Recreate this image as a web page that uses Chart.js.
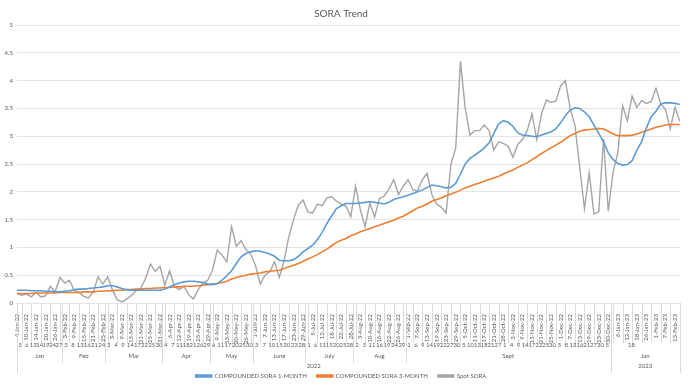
<!DOCTYPE html>
<html>
<head>
<meta charset="utf-8">
<script src="https://cdn.jsdelivr.net/npm/chart.js@4.4.0/dist/chart.umd.min.js"></script>
<style>
  html, body { margin: 0; padding: 0; background: #fff; }
  #wrap { width: 690px; height: 389px; }
</style>
</head>
<body>
<div id="wrap"><canvas id="soraChart"></canvas></div>
<script>
// Every other business day, Jan 2022 - Feb 2023
const dates = [
  "4-Jan-22", "6-Jan-22", "10-Jan-22", "12-Jan-22", "14-Jan-22", "18-Jan-22", "20-Jan-22", "24-Jan-22", "26-Jan-22", "28-Jan-22",
  "3-Feb-22", "7-Feb-22", "9-Feb-22", "11-Feb-22", "15-Feb-22", "17-Feb-22", "21-Feb-22", "23-Feb-22", "25-Feb-22",
  "1-Mar-22", "3-Mar-22", "7-Mar-22", "9-Mar-22", "11-Mar-22", "15-Mar-22", "17-Mar-22", "21-Mar-22", "23-Mar-22", "25-Mar-22", "29-Mar-22", "31-Mar-22",
  "4-Apr-22", "6-Apr-22", "8-Apr-22", "12-Apr-22", "14-Apr-22", "19-Apr-22", "21-Apr-22", "25-Apr-22", "27-Apr-22", "29-Apr-22",
  "5-May-22", "9-May-22", "11-May-22", "13-May-22", "18-May-22", "20-May-22", "24-May-22", "26-May-22", "30-May-22",
  "1-Jun-22", "3-Jun-22", "7-Jun-22", "9-Jun-22", "13-Jun-22", "15-Jun-22", "17-Jun-22", "21-Jun-22", "23-Jun-22", "27-Jun-22", "29-Jun-22",
  "1-Jul-22", "5-Jul-22", "7-Jul-22", "12-Jul-22", "14-Jul-22", "18-Jul-22", "20-Jul-22", "22-Jul-22", "26-Jul-22", "28-Jul-22",
  "1-Aug-22", "3-Aug-22", "5-Aug-22", "10-Aug-22", "12-Aug-22", "16-Aug-22", "18-Aug-22", "22-Aug-22", "24-Aug-22", "26-Aug-22", "30-Aug-22",
  "1-Sep-22", "5-Sep-22", "7-Sep-22", "9-Sep-22", "13-Sep-22", "15-Sep-22", "19-Sep-22", "21-Sep-22", "23-Sep-22", "27-Sep-22", "29-Sep-22",
  "3-Oct-22", "5-Oct-22", "7-Oct-22", "11-Oct-22", "13-Oct-22", "17-Oct-22", "19-Oct-22", "21-Oct-22", "26-Oct-22", "28-Oct-22",
  "1-Nov-22", "3-Nov-22", "7-Nov-22", "9-Nov-22", "11-Nov-22", "15-Nov-22", "17-Nov-22", "21-Nov-22", "23-Nov-22", "25-Nov-22", "29-Nov-22",
  "1-Dec-22", "5-Dec-22", "7-Dec-22", "9-Dec-22", "13-Dec-22", "15-Dec-22", "19-Dec-22", "21-Dec-22", "23-Dec-22", "28-Dec-22", "30-Dec-22",
  "4-Jan-23", "6-Jan-23", "10-Jan-23", "12-Jan-23", "16-Jan-23", "18-Jan-23", "20-Jan-23", "26-Jan-23", "30-Jan-23",
  "1-Feb-23", "3-Feb-23", "7-Feb-23", "9-Feb-23", "13-Feb-23", "15-Feb-23"
];

const sora1m = [
  0.23, 0.23, 0.23, 0.22, 0.22, 0.22, 0.21, 0.21, 0.20, 0.20,
  0.21, 0.22, 0.24, 0.25, 0.25, 0.26, 0.27, 0.28, 0.29, 0.31,
  0.31, 0.29, 0.26, 0.24, 0.23, 0.23, 0.23, 0.23, 0.23, 0.23,
  0.23, 0.25, 0.29, 0.33, 0.36, 0.38, 0.39, 0.39, 0.38, 0.37,
  0.34, 0.33, 0.35, 0.41, 0.49, 0.58, 0.71, 0.83, 0.89, 0.92,
  0.94, 0.93, 0.91, 0.88, 0.84, 0.77, 0.76, 0.76, 0.78, 0.84,
  0.92, 0.98, 1.04, 1.14, 1.27, 1.43, 1.57, 1.70, 1.75, 1.79,
  1.79, 1.79, 1.80, 1.81, 1.82, 1.81, 1.80, 1.78, 1.81, 1.86,
  1.89, 1.91, 1.94, 1.97, 2.00, 2.03, 2.08, 2.12, 2.11, 2.09,
  2.07, 2.08, 2.15, 2.32, 2.50, 2.60, 2.66, 2.72, 2.79, 2.88,
  3.05, 3.22, 3.28, 3.25, 3.18, 3.06, 3.02, 3.01, 3.00, 2.99,
  3.02, 3.05, 3.08, 3.13, 3.24, 3.37, 3.47, 3.51, 3.50, 3.44,
  3.35, 3.20, 3.05, 2.90, 2.70, 2.58, 2.51, 2.48, 2.49, 2.56,
  2.75, 2.90, 3.15, 3.35, 3.45, 3.58, 3.60, 3.60, 3.59, 3.57
];

const sora3m = [
  0.17, 0.17, 0.17, 0.17, 0.18, 0.18, 0.18, 0.18, 0.18, 0.19,
  0.19, 0.19, 0.19, 0.19, 0.20, 0.20, 0.20, 0.21, 0.21, 0.22,
  0.22, 0.23, 0.23, 0.24, 0.24, 0.25, 0.25, 0.26, 0.26, 0.27,
  0.27, 0.28, 0.28, 0.29, 0.29, 0.30, 0.30, 0.30, 0.31, 0.32,
  0.33, 0.34, 0.35, 0.37, 0.39, 0.43, 0.46, 0.48, 0.50, 0.52,
  0.53, 0.54, 0.56, 0.57, 0.58, 0.59, 0.62, 0.65, 0.68, 0.71,
  0.75, 0.79, 0.83, 0.87, 0.92, 0.97, 1.03, 1.09, 1.13, 1.16,
  1.21, 1.24, 1.28, 1.31, 1.34, 1.37, 1.40, 1.43, 1.46, 1.49,
  1.53, 1.56, 1.61, 1.66, 1.71, 1.74, 1.78, 1.83, 1.86, 1.89,
  1.93, 1.96, 1.99, 2.03, 2.07, 2.10, 2.13, 2.16, 2.19, 2.22,
  2.25, 2.28, 2.32, 2.36, 2.39, 2.44, 2.48, 2.52, 2.58, 2.63,
  2.69, 2.74, 2.79, 2.84, 2.89, 2.95, 3.01, 3.05, 3.09, 3.11,
  3.12, 3.13, 3.14, 3.13, 3.09, 3.04, 3.01, 3.01, 3.01, 3.02,
  3.04, 3.07, 3.10, 3.13, 3.16, 3.18, 3.20, 3.21, 3.21, 3.21
];

const spotSora = [
  0.17, 0.14, 0.16, 0.11, 0.19, 0.11, 0.13, 0.30, 0.20, 0.46,
  0.36, 0.41, 0.23, 0.19, 0.12, 0.09, 0.20, 0.47, 0.34, 0.47,
  0.24, 0.06, 0.02, 0.07, 0.14, 0.22, 0.27, 0.45, 0.70, 0.57,
  0.66, 0.32, 0.58, 0.30, 0.24, 0.30, 0.15, 0.07, 0.24, 0.36,
  0.41, 0.59, 0.95, 0.86, 0.74, 1.37, 1.02, 1.12, 0.96, 0.88,
  0.68, 0.34, 0.50, 0.56, 0.74, 0.46, 0.75, 1.19, 1.50, 1.76,
  1.85, 1.64, 1.62, 1.78, 1.75, 1.89, 1.91, 1.83, 1.78, 1.74,
  1.55, 2.10, 1.68, 1.37, 1.80, 1.55, 1.88, 1.92, 2.05, 2.22,
  1.95, 2.10, 2.22, 2.04, 2.02, 2.22, 2.33, 1.95, 1.78, 1.72,
  1.62, 2.50, 2.78, 4.35, 3.50, 3.02, 3.10, 3.10, 3.20, 3.10,
  2.75, 2.90, 2.87, 2.82, 2.62, 2.85, 2.94, 3.10, 3.40, 2.94,
  3.40, 3.65, 3.61, 3.63, 3.90, 4.00, 3.50, 3.20, 2.45, 1.70,
  2.34, 1.60, 1.64, 2.95, 1.65, 2.35, 2.70, 3.55, 3.28, 3.72,
  3.52, 3.64, 3.59, 3.62, 3.86, 3.59, 3.48, 3.13, 3.52, 3.27
];

// Multi-level axis text
const dayLabels = [
  ["5", "6", "13", "14", "19", "24", "27"],
  ["3", "8", "13", "16", "21", "24"],
  ["3", "4", "9", "14", "17", "22", "25", "30"],
  ["4", "7", "11", "18", "21", "26", "29"],
  ["6", "11", "17", "20", "25", "30"],
  ["3", "7", "10", "15", "20", "23", "28"],
  ["1", "6", "11", "15", "20", "25", "28"],
  ["2", "5", "11", "16", "19", "24", "29"],
  ["1", "6", "9", "14", "19", "22", "27", "30", "5", "10", "13", "18", "21", "27", "1", "4", "9", "14", "17", "22", "25", "30", "5", "8", "13", "16", "21", "27", "30", "5"],
  ["", "18", "", "", ""]
];
const monthLabels = ["Jan", "Feb", "Mar", "Apr", "May", "June", "July", "Aug", "Sept", "Jan"];
const monthCounts = [10, 9, 12, 10, 9, 11, 10, 11, 43, 15];
const yearLabels = ["2022", "2023"];
const yearCounts = [125, 15];

const textColor = "#595959";
const lineColor = "#d9d9d9";
const fontFamily = "Lato, 'Open Sans', sans-serif";

const groupAxisPlugin = {
  id: "groupAxis",
  afterDraw(chart) {
    const { ctx, chartArea, scales } = chart;
    const x = scales.x;
    const bottom = chartArea.bottom;
    const edge = (i) => {
      if (i <= 0) return chartArea.left;
      if (i >= dates.length) return chartArea.right;
      return (x.getPixelForValue(i - 1) + x.getPixelForValue(i)) / 2;
    };
    const vline = (px, y0, y1) => {
      ctx.beginPath();
      ctx.moveTo(Math.round(px) + 0.5, y0);
      ctx.lineTo(Math.round(px) + 0.5, y1);
      ctx.stroke();
    };

    ctx.save();
    ctx.strokeStyle = lineColor;
    ctx.lineWidth = 1;

    // separators between the rotated date labels
    for (let i = 1; i < dates.length; i += 2) {
      vline(x.getPixelForValue(i), bottom, bottom + 40);
    }

    ctx.fillStyle = textColor;
    ctx.font = "6px " + fontFamily;
    ctx.textAlign = "center";
    ctx.textBaseline = "middle";

    // month groups + day row
    let start = 0;
    monthCounts.forEach((count, m) => {
      const x0 = edge(start);
      const x1 = edge(start + count);
      vline(x0, bottom, bottom + 60);
      const days = dayLabels[m];
      const step = (x1 - x0) / days.length;
      days.forEach((d, j) => {
        ctx.fillText(d, x0 + step * (j + 0.5), bottom + 42);
      });
      ctx.fillText(monthLabels[m], (x0 + x1) / 2, bottom + 53);
      start += count;
    });
    vline(chartArea.right, bottom, bottom + 70);

    // year groups
    start = 0;
    yearCounts.forEach((count, y) => {
      const x0 = edge(start);
      const x1 = edge(start + count);
      vline(x0, bottom, bottom + 70);
      ctx.fillText(yearLabels[y], (x0 + x1) / 2, bottom + 63);
      start += count;
    });
    ctx.restore();
  }
};

Chart.defaults.font.family = fontFamily;
Chart.defaults.color = textColor;

const ctx = document.getElementById("soraChart").getContext("2d");
new Chart(ctx, {
  type: "line",
  data: {
    labels: dates,
    datasets: [
      {
        label: "COMPOUNDED SORA 1-MONTH",
        data: sora1m,
        borderColor: "#5b9bd5",
        backgroundColor: "#5b9bd5",
        borderWidth: 1.6,
        pointRadius: 0,
      },
      {
        label: "COMPOUNDED SORA 3-MONTH",
        data: sora3m,
        borderColor: "#ed7d31",
        backgroundColor: "#ed7d31",
        borderWidth: 1.6,
        pointRadius: 0,
      },
      {
        label: "Spot SORA",
        data: spotSora,
        borderColor: "#a5a5a5",
        backgroundColor: "#a5a5a5",
        borderWidth: 1.4,
        pointRadius: 0,
      },
    ],
  },
  options: {
    responsive: true,
    maintainAspectRatio: false,
    animation: false,
    layout: {
      padding: { left: 0, right: 8, top: 0, bottom: 0 },
    },
    plugins: {
      title: {
        display: true,
        text: "SORA Trend",
        color: textColor,
        font: { size: 10, weight: "normal" },
        padding: { top: 8, bottom: 5 },
      },
      legend: {
        position: "bottom",
        labels: {
          boxWidth: 16,
          boxHeight: 2,
          padding: 10,
          color: textColor,
          font: { size: 6 },
        },
      },
      tooltip: { enabled: false },
    },
    scales: {
      x: {
        offset: false,
        grid: { display: false },
        border: { display: false },
        ticks: {
          autoSkip: false,
          maxRotation: 90,
          minRotation: 90,
          padding: 3,
          font: { size: 6 },
          color: textColor,
          callback: function (value, index) {
            return index % 2 === 0 ? dates[index] : "";
          },
        },
        afterFit: function (scale) {
          scale.height = 60;
        },
      },
      y: {
        min: 0,
        max: 5,
        border: { display: false },
        grid: { color: "#e4e4e4", drawTicks: false },
        ticks: {
          stepSize: 0.5,
          padding: 4,
          font: { size: 6 },
          color: textColor,
          callback: function (value) {
            return String(Math.round(value * 10) / 10);
          },
        },
        afterFit: function (scale) {
          scale.width = 17;
        },
      },
    },
  },
  plugins: [groupAxisPlugin],
});
</script>
</body>
</html>
